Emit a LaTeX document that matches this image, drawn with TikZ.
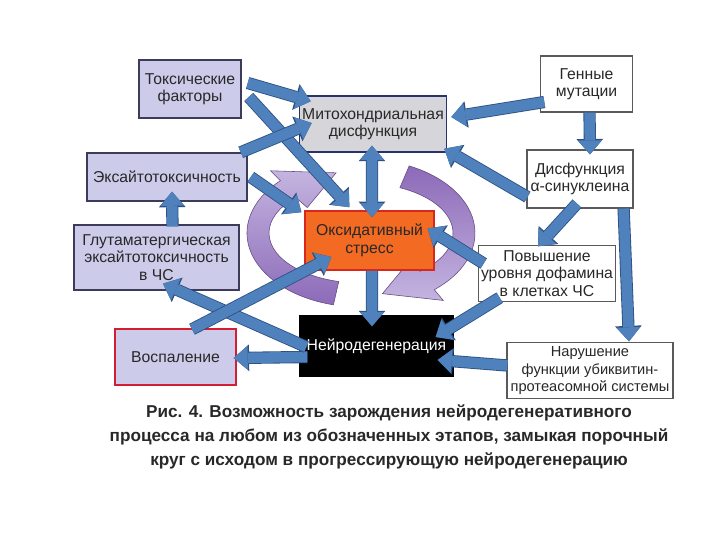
\documentclass[tikz,border=0pt]{standalone}
\usepackage{fontspec}
\setmainfont{Liberation Sans}
\usetikzlibrary{arrows.meta,calc,positioning}
\definecolor{lavfill}{RGB}{204,204,234}
\definecolor{lavedge}{RGB}{60,60,90}
\definecolor{mitofill}{RGB}{214,214,218}
\definecolor{mitoedge}{RGB}{40,50,110}
\definecolor{oxifill}{RGB}{243,106,34}
\definecolor{oxiedge}{RGB}{215,40,30}
\definecolor{infledge}{RGB}{210,30,50}
\definecolor{greyedge}{RGB}{90,90,90}
\definecolor{arrowblue}{RGB}{79,129,189}
\definecolor{arrowedge}{RGB}{45,80,130}
\definecolor{ringlight}{RGB}{196,180,224}
\definecolor{ringdark}{RGB}{140,106,184}
\definecolor{textgrey}{RGB}{40,40,40}

\begin{document}
\begin{tikzpicture}[x=0.025cm, y=-0.025cm,
    box/.style={rectangle, draw, line width=1pt, align=center, inner sep=2pt,
                text=textgrey, font=\fontsize{11.2}{12.4}\selectfont},
    lavbox/.style={box, fill=lavfill, draw=lavedge},
    whitebox/.style={box, fill=white, draw=greyedge, line width=0.8pt},
    blk/.style={line width=7.5pt, draw=arrowblue,
                -{Triangle[length=10pt,width=17pt,line width=0pt]},
                preaction={draw=arrowedge, line width=8.7pt,
                -{Triangle[length=11pt,width=19pt,line width=0pt]}}},
    blkboth/.style={line width=7.5pt, draw=arrowblue,
                {Triangle[length=10pt,width=17pt,line width=0pt]}-{Triangle[length=10pt,width=17pt,line width=0pt]},
                preaction={draw=arrowedge, line width=8.7pt,
                {Triangle[length=11pt,width=19pt,line width=0pt]}-{Triangle[length=11pt,width=19pt,line width=0pt]}}},
    ring/.style={draw=ringdark!70!black, line width=0.4pt}
]
\useasboundingbox[fill=white] (0,0) rectangle (720,540);

% vicious circle
\coordinate (c) at (361,233);
\shadedraw[ring, top color=ringlight, bottom color=ringdark]
  ($(c)+(104:114 and 74)$) arc[start angle=104, end angle=225, x radius=114, y radius=74]
  -- ($(c)+(225:128 and 88)$) -- ($(c)+(256:103 and 62)$) -- ($(c)+(225:76 and 36)$)
  -- ($(c)+(225:92 and 50)$) arc[start angle=225, end angle=104, x radius=92, y radius=50] -- cycle;
\shadedraw[ring, top color=ringdark, bottom color=ringlight]
  ($(c)+(295:114 and 74)$) arc[start angle=295, end angle=410, x radius=114, y radius=74]
  -- ($(c)+(410:128 and 88)$) -- ($(c)+(438:103 and 62)$) -- ($(c)+(410:76 and 36)$)
  -- ($(c)+(410:92 and 50)$) arc[start angle=410, end angle=295, x radius=92, y radius=50] -- cycle;

% boxes
\node[lavbox, minimum width=2.55cm, minimum height=1.45cm] (tox) at (190,89) {Токсические\\факторы};
\node[box, fill=mitofill, draw=mitoedge, minimum width=3.65cm, minimum height=1.4cm] (mito) at (373,124) {Митохондриальная\\дисфункция};
\node[whitebox, minimum width=2.28cm, minimum height=1.4cm] (gene) at (586.5,84) {Генные\\мутации};
\node[lavbox, minimum width=4cm, minimum height=1.2cm] (exc) at (167,177) {Эксайтотоксичность};
\node[whitebox, minimum width=2.65cm, minimum height=1.45cm] (syn) at (580,179) {Дисфункция\\α-синуклеина};
\node[box, fill=oxifill, draw=oxiedge, minimum width=3.22cm, minimum height=1.48cm] (oxi) at (369.5,240.5) {Оксидативный\\стресс};
\node[lavbox, minimum width=4.12cm, minimum height=1.62cm] (glu) at (156.5,257.5) {Глутаматергическая\\эксайтотоксичность\\в ЧС};
\node[whitebox, minimum width=3.3cm, minimum height=1.38cm] (dopa) at (547,273.5) {Повышение\\уровня дофамина\\в клетках ЧС};
\node[box, fill=black, draw=black, text=white, minimum width=3.82cm, minimum height=1.5cm] (neuro) at (376.5,346) {Нейродегенерация};
\node[lavbox, draw=infledge, minimum width=3.02cm, minimum height=1.4cm] (infl) at (175.5,357) {Воспаление};
\node[whitebox, font=\fontsize{10.4}{12.4}\selectfont, minimum width=4.15cm, minimum height=1.38cm] (ups) at (590,370.5) {Нарушение\\функции убиквитин-\\протеасомной системы};

% arrows
\draw[blk] ($(tox.east)+(6,-6)$) -- ($(mito.north west)+(12,6)$);
\draw[blk] ($(tox.east)+(7,8)$) -- ($(oxi.north west)+(45,-3)$);
\draw[blk] ($(exc.north east)+(-7,0)$) -- ($(mito.west)+(13,-1)$);
\draw[blk] ($(exc.east)+(3,0)$) -- ($(oxi.north west)+(-3,2)$);
\draw[blk] ($(glu.north)+(16,2)$) -- ($(exc.south)+(5,-10)$);
\draw[blkboth] ($(mito.south)+(-1,-7)$) -- ($(oxi.north)+(2.5,7)$);
\draw[blk] ($(oxi.south)+(2.5,0)$) -- ($(neuro.north)+(-4.5,11)$);
\draw[blk] ($(gene.west)+(4,18)$) -- ($(mito.east)+(4,-7)$);
\draw[blk] ($(gene.south)+(3,0)$) -- ($(syn.north)+(10,5)$);
\draw[blk] ($(syn.west)+(1,18)$) -- ($(mito.south east)+(-3,-4)$);
\draw[blk] ($(syn.south)+(-3,-5)$) -- ($(dopa.north)+(-9,1)$);
\draw[blk] ($(syn.south east)+(-10,0)$) -- ($(ups.north)+(39,-1)$);
\draw[blk] ($(dopa.west)+(6,-10)$) -- ($(oxi.east)+(-7,-12)$);
\draw[blk] ($(dopa.south west)+(22,-4)$) -- ($(neuro.east)+(-18,-9)$);
\draw[blk] ($(ups.west)+(1,-5)$) -- ($(neuro.east)+(-16,14)$);
\draw[blk] ($(neuro.west)+(8,11)$) -- ($(infl.east)+(-3,1)$);
\draw[blk] ($(neuro.west)+(7,1)$) -- ($(glu.south)+(6.5,-7)$);
\draw[blk] ($(infl.north)+(16.5,1)$) -- ($(oxi.west)+(27,16.5)$);

% caption
\node[align=center, text=textgrey, font=\bfseries\fontsize{12.2}{17}\selectfont] (caption) at (389,437)
  {Рис. 4. Возможность зарождения нейродегенеративного\\процесса на любом из обозначенных этапов, замыкая порочный\\круг с исходом в прогрессирующую нейродегенерацию};
\end{tikzpicture}
\end{document}
